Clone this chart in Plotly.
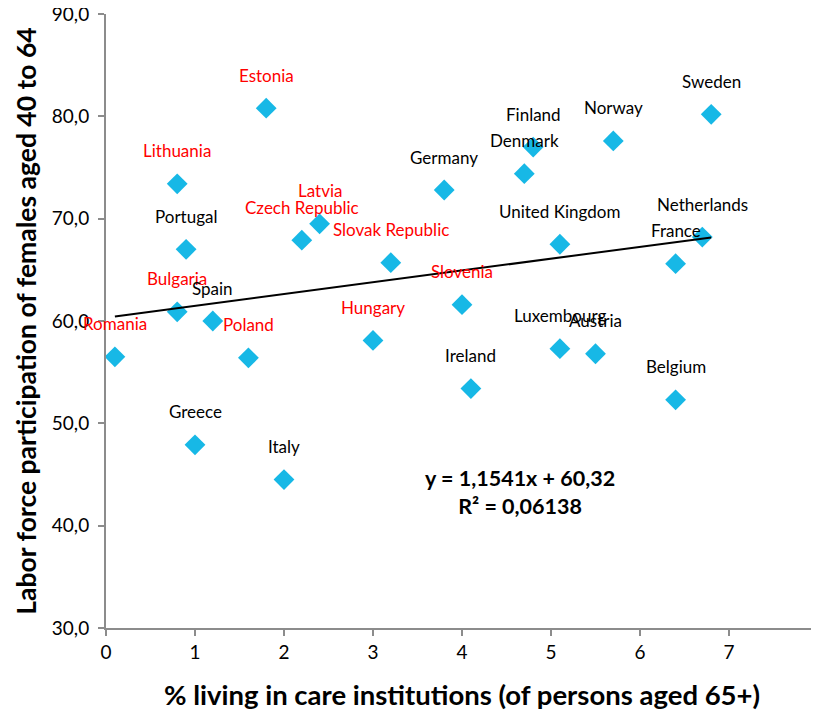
import plotly.graph_objects as go

countries = ["Romania", "Lithuania", "Bulgaria", "Portugal", "Greece", "Spain",
             "Poland", "Estonia", "Italy", "Czech Republic", "Latvia", "Hungary",
             "Slovak Republic", "Germany", "Slovenia", "Ireland", "Denmark", "Finland",
             "United Kingdom", "Luxembourg", "Austria", "Norway", "France", "Belgium",
             "Netherlands", "Sweden"]
care_pct = [0.1, 0.8, 0.8, 0.9, 1.0, 1.2,
            1.6, 1.8, 2.0, 2.2, 2.4, 3.0,
            3.2, 3.8, 4.0, 4.1, 4.7, 4.8,
            5.1, 5.1, 5.5, 5.7, 6.4, 6.4,
            6.7, 6.8]
labor_part = [56.5, 73.4, 60.9, 67.0, 47.9, 60.0,
              56.4, 80.8, 44.5, 67.9, 69.5, 58.1,
              65.7, 72.8, 61.6, 53.4, 74.4, 77.0,
              67.5, 57.3, 56.8, 77.6, 65.6, 52.3,
              68.2, 80.2]
eastern = {"Romania", "Lithuania", "Bulgaria", "Poland", "Estonia", "Czech Republic",
           "Latvia", "Hungary", "Slovak Republic", "Slovenia"}

slope = 1.1541
intercept = 60.32
r2_text = "0,06138"

x_ticks = [0, 1, 2, 3, 4, 5, 6, 7, 8]
y_ticks = [30, 40, 50, 60, 70, 80, 90]
y_tick_text = ["30,0", "40,0", "50,0", "60,0", "70,0", "80,0", "90,0"]

FONT = "Lato"

fig = go.Figure()

fig.add_trace(go.Scatter(
    x=care_pct, y=labor_part, mode="markers",
    marker=dict(symbol="diamond", size=16, color="#17B8E6", line=dict(width=0)),
    showlegend=False, hoverinfo="text", text=countries, cliponaxis=False,
))

xmin, xmax = min(care_pct), max(care_pct)
fig.add_trace(go.Scatter(
    x=[xmin, xmax], y=[slope * xmin + intercept, slope * xmax + intercept],
    mode="lines", line=dict(color="black", width=2),
    showlegend=False, hoverinfo="skip",
))

for c, xv, yv in zip(countries, care_pct, labor_part):
    fig.add_annotation(
        x=xv, y=yv, xref="x", yref="y", text=c, showarrow=False,
        yshift=33, font=dict(family=FONT, size=17,
                             color="#FF0000" if c in eastern else "#000000"),
    )

fig.add_annotation(
    x=4.65, y=43.3, xref="x", yref="y", showarrow=False,
    text="y = 1,1541x + 60,32<br>R² = " + r2_text,
    font=dict(family=FONT, size=21.5, color="black", weight="bold"),
    align="center",
)

axis_common = dict(
    showgrid=False, zeroline=False, showline=True, linecolor="#8C8C8C", linewidth=2,
    ticks="outside", ticklen=6, tickwidth=2, tickcolor="#8C8C8C",
    tickfont=dict(family=FONT, size=19, color="black"), automargin=False,
    ticklabeloverflow="allow",
)

fig.update_xaxes(
    range=[0, 8], tickvals=x_ticks, ticktext=[str(t) for t in x_ticks],
    title=dict(text="% living in care institutions (of persons aged 65+)",
               font=dict(family=FONT, size=27.5, color="black", weight="bold"), standoff=24),
    **axis_common,
)
fig.update_yaxes(
    range=[30, 90], tickvals=y_ticks, ticktext=y_tick_text, ticklabelstandoff=5,
    title=dict(text="Labor force participation of females aged 40 to 64",
               font=dict(family=FONT, size=26.5, color="black", weight="bold"), standoff=8),
    **axis_common,
)

# page body has an 8px margin, so the figure is sized to end at the window edge
fig.update_layout(
    width=811, height=704,
    margin=dict(l=98, r=1, t=6, b=84),
    plot_bgcolor="white", paper_bgcolor="white",
)

fig.write_html("out.html")
